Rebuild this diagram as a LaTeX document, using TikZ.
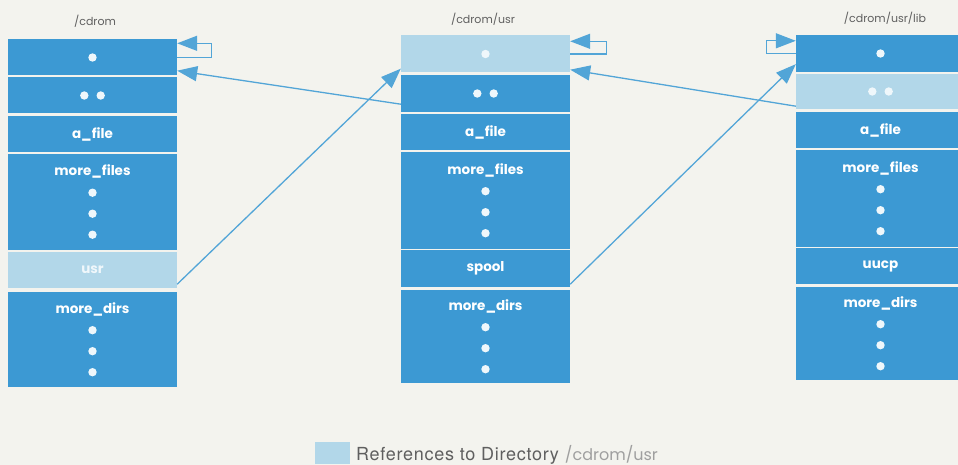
\documentclass[tikz,border=0pt]{standalone}
\usepackage{fontspec}
\setmainfont{Poppins}
\newfontfamily\legendfont[LetterSpace=4]{TeX Gyre Heros}
\usetikzlibrary{arrows.meta}

\definecolor{paper}{RGB}{243,243,238}
\definecolor{dirblue}{RGB}{60,153,211}
\definecolor{refblue}{RGB}{178,215,233}
\definecolor{linkblue}{RGB}{82,165,215}
\definecolor{labelgray}{RGB}{95,95,95}

% small white dot used inside the directory cells
\newcommand{\wdot}{\tikz\fill[white!92!dirblue] (0,0) circle (4.2pt);}

\begin{document}
\begin{tikzpicture}[x=1pt, y=-1pt,
    cell/.style={fill=dirblue, text=white, minimum width=169pt, inner sep=0pt, align=center,
                 font=\bfseries\fontsize{13.5}{21}\selectfont},
    refcell/.style={cell, fill=refblue, text=white!80!refblue},
    title/.style={text=labelgray, font=\fontsize{11}{13}\selectfont},
    link/.style={linkblue, line width=1.3pt, -{Triangle[length=20pt, width=15pt]}}]

  \clip (0,0) rectangle (958,465);
  \fill[paper] (0,0) rectangle (958,465);

  % --- left column: /cdrom ---
  \begin{scope}[xshift=8pt]
    \node[title] (t1) at (87,21) {/cdrom};
    \node[cell, minimum height=36pt] (a1) at (84.5,57.5) {\wdot};
    \node[cell, minimum height=36pt] (a2) at (84.5,95.5) {\wdot\hspace{8pt}\wdot};
    \node[cell, minimum height=36pt] (a3) at (84.5,134) {a\_file};
    \node[cell, minimum height=96pt] (a4) at (84.5,202) {more\_files\\\wdot\\\wdot\\\wdot};
    \node[refcell, minimum height=36pt] (a5) at (84.5,270) {usr};
    \node[cell, minimum height=95pt] (a6) at (84.5,339.5) {more\_dirs\\\wdot\\\wdot\\\wdot};
  \end{scope}

  % --- middle column: /cdrom/usr ---
  \begin{scope}[xshift=401pt]
    \node[title] (t2) at (82,19) {/cdrom/usr};
    \node[refcell, minimum height=37pt] (b1) at (84.5,54) {\wdot};
    \node[cell, minimum height=37pt] (b2) at (84.5,93.5) {\wdot\hspace{8pt}\wdot};
    \node[cell, minimum height=36pt] (b3) at (84.5,132) {a\_file};
    \node[cell, minimum height=97pt] (b4) at (84.5,200.5) {more\_files\\\wdot\\\wdot\\\wdot};
    \node[cell, minimum height=37pt] (b5) at (84.5,268.5) {spool};
    \node[cell, minimum height=93pt] (b6) at (84.5,336.5) {more\_dirs\\\wdot\\\wdot\\\wdot};
  \end{scope}

  % --- right column: /cdrom/usr/lib ---
  \begin{scope}[xshift=796pt]
    \node[title] (t3) at (89,18) {/cdrom/usr/lib};
    \node[cell, minimum height=37pt] (c1) at (84.5,53.5) {\wdot};
    \node[refcell, minimum height=35pt] (c2) at (84.5,91.5) {\wdot\hspace{8pt}\wdot};
    \node[cell, minimum height=36pt] (c3) at (84.5,130) {a\_file};
    \node[cell, minimum height=97pt] (c4) at (84.5,198.5) {more\_files\\\wdot\\\wdot\\\wdot};
    \node[cell, minimum height=36pt] (c5) at (84.5,266) {uucp};
    \node[cell, minimum height=93pt] (c6) at (84.5,333.5) {more\_dirs\\\wdot\\\wdot\\\wdot};
  \end{scope}

  % self references (.)
  \draw[link] (a1.east) -- ++(34,0) |- ([yshift=-4pt]a1.north east);
  \draw[link] (b1.east) -- ++(36,0) |- ([yshift=-6pt]b1.north east);
  \draw[link] (c1.west) -- ++(-29,0) |- ([yshift=-6pt]c1.north west);

  % parent references (..)
  \draw[link] ([yshift=8pt]b2.south west) -- ([yshift=5pt]a1.south east);
  \draw[link] ([yshift=3pt]c2.south west) -- ([yshift=3pt]b1.south east);

  % subdirectory entries
  \draw[link] ([yshift=4pt]a5.south east) -- ([yshift=4pt]b1.south west);
  \draw[link] ([yshift=3pt]b5.south east) -- ([yshift=8pt]c1.south west);

  % legend
  \node[fill=refblue, minimum width=35pt, minimum height=22pt, inner sep=0pt] (key) at (332,453) {};
  \node[anchor=base west, inner sep=0pt, text=labelgray] (keytext) at (356,460)
    {{\legendfont\fontsize{18}{21}\selectfont References to Directory}\hspace{6pt}{\fontsize{16}{18}\selectfont\color{gray!75}/cdrom/usr}};
\end{tikzpicture}
\end{document}
